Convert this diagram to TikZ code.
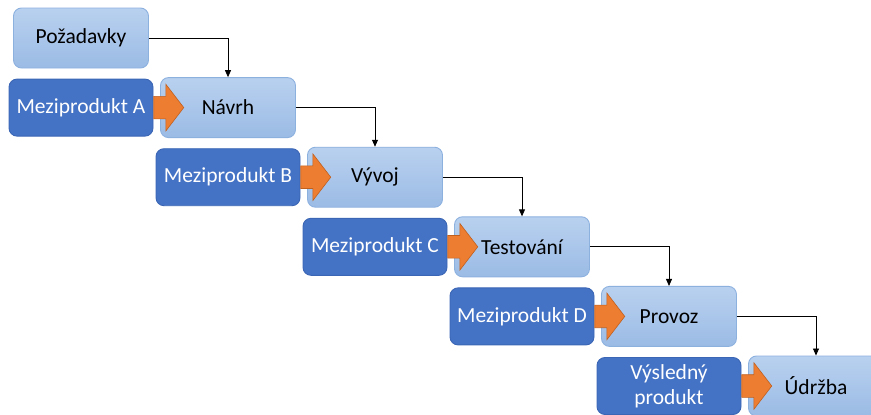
\documentclass[tikz,border=0pt]{standalone}
\usepackage{fontspec}
\setmainfont{Carlito}
\usetikzlibrary{arrows.meta,shapes.arrows}

\definecolor{phasetop}{HTML}{B9D1EF}
\definecolor{phasebot}{HTML}{9BBBE5}
\definecolor{phaseline}{HTML}{8DB1DF}
\definecolor{prodfill}{HTML}{4472C4}
\definecolor{prodline}{HTML}{3B66B5}
\definecolor{pushfill}{HTML}{ED7D31}
\definecolor{pushline}{HTML}{C0601F}

\tikzset{
	phase/.style={draw=phaseline, line width=0.9pt, top color=phasetop, bottom color=phasebot,
		rounded corners=8pt, minimum width=135pt, minimum height=60pt,
		font=\fontsize{21.5}{23}\selectfont, text=black},
	product/.style={draw=prodline, line width=0.9pt, fill=prodfill, rounded corners=8pt,
		minimum width=144pt, minimum height=57pt, align=center,
		font=\fontsize{21.5}{25}\selectfont, text=white},
	push/.style={single arrow, draw=pushline, line width=0.6pt, fill=pushfill,
		inner xsep=0pt, inner ysep=11pt,
		single arrow head extend=12pt, single arrow tip angle=105,
		minimum height=30pt, anchor=tail},
	flow/.style={-{Triangle[length=7pt,width=6pt]}, line width=0.8pt}
}

\begin{document}
\begin{tikzpicture}[x=1pt,y=-1pt]
	
	% page frame
	\useasboundingbox (0,0) rectangle (871,415);
	
	% first phase
	\node[phase] (p0) at (81,38) {Požadavky};
	
	% each row: intermediate product, phase, orange push arrow, flow from previous phase
	\foreach \i/\ph/\pr in {1/Návrh/Meziprodukt A, 2/Vývoj/Meziprodukt B,
		3/Testování/Meziprodukt C, 4/Provoz/Meziprodukt D, 5/Údržba/{Výsledný\\produkt}}{
		\pgfmathtruncatemacro{\j}{\i-1}
		\node[product] (m\i) at ({81+147*(\i-1)},{38+69.6*\i}) {\pr};
		\node[phase] (p\i) at ({81+147*\i},{38+69.6*\i}) {\ph};
		\node[push] (a\i) at (m\i.east) {};
		\draw[flow] (p\j.east) -| (p\i.north);
	}
	
\end{tikzpicture}
\end{document}
